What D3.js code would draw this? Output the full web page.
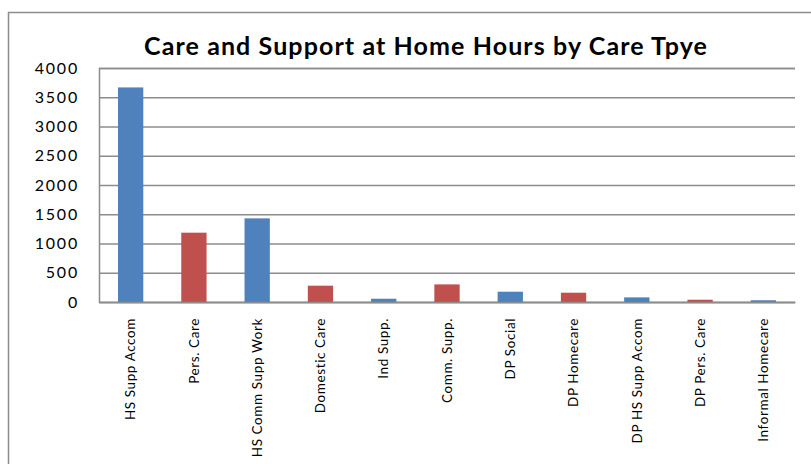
<!DOCTYPE html>
<html>
<head>
<meta charset="utf-8">
<script src="https://cdn.jsdelivr.net/npm/d3@7"></script>
<style>
  html, body { margin: 0; padding: 0; background: #fff; }
  svg { display: block; }
</style>
</head>
<body>
<svg id="chart" width="811" height="464"></svg>
<script>
const categories = [
  "HS Supp Accom", "Pers. Care", "HS Comm Supp Work", "Domestic Care", "Ind Supp.",
  "Comm. Supp.", "DP Social", "DP Homecare", "DP HS Supp Accom", "DP Pers. Care",
  "Informal Homecare"
];
const hours = [3668, 1185, 1430, 279, 56, 301, 176, 159, 79, 39, 30];
const yTicks = [0, 500, 1000, 1500, 2000, 2500, 3000, 3500, 4000];
const palette = ["#4F81BD", "#C0504D"];
const title = "Care and Support at Home Hours by Care Tpye";

const svg = d3.select("#chart");
const font = "Lato, 'Open Sans', sans-serif";

// chart frame
svg.append("rect")
  .attr("x", 8.5).attr("y", 12.5)
  .attr("width", 820).attr("height", 470)
  .attr("fill", "#fff").attr("stroke", "#8c8c8c").attr("stroke-width", 1.5);

const plot = { left: 99, right: 795, top: 68, bottom: 302 };

const x = d3.scaleBand()
  .domain(categories)
  .range([plot.left, plot.right])
  .paddingInner(0.6).paddingOuter(0.3);

const y = d3.scaleLinear().domain([0, 4000]).range([plot.bottom, plot.top]);

const color = d3.scaleOrdinal().domain([0, 1]).range(palette);

// gridlines and value axis
const yAxis = d3.axisLeft(y).tickValues(yTicks).tickSize(-(plot.right - plot.left)).tickPadding(20).tickFormat(d3.format("d"));
const gy = svg.append("g").attr("transform", `translate(${plot.left},0)`).call(yAxis);
gy.select(".domain").attr("stroke", "#8c8c8c").attr("stroke-width", 1.5);
gy.selectAll(".tick line").attr("stroke", "#8c8c8c").attr("stroke-width", 1.5);
gy.selectAll(".tick text")
  .attr("font-family", font).attr("font-size", 16).attr("fill", "#000")
  .attr("letter-spacing", 1.8);

// bars, alternating colours by position
svg.append("g").selectAll("rect")
  .data(hours)
  .join("rect")
  .attr("x", (d, i) => x(categories[i]))
  .attr("width", x.bandwidth())
  .attr("y", d => y(d))
  .attr("height", d => y(0) - y(d))
  .attr("fill", (d, i) => color(i % 2));

// category axis with vertical labels
const xAxis = d3.axisBottom(x).tickSize(0).tickPadding(0);
const gx = svg.append("g").attr("transform", `translate(0,${plot.bottom})`).call(xAxis);
gx.select(".domain").attr("stroke", "#8c8c8c").attr("stroke-width", 1.5);
gx.selectAll(".tick text")
  .attr("font-family", font).attr("font-size", 13.5).attr("fill", "#000")
  .attr("letter-spacing", 0.6)
  .attr("text-anchor", "end")
  .attr("dy", "0.35em")
  .attr("transform", "translate(0,16) rotate(-90)")
  .attr("y", 0).attr("x", 0);

// title
svg.append("text")
  .attr("x", 426).attr("y", 55)
  .attr("text-anchor", "middle")
  .attr("font-family", font).attr("font-weight", "bold").attr("font-size", 25)
  .attr("letter-spacing", 1.1)
  .attr("fill", "#000")
  .text(title);
</script>
</body>
</html>
